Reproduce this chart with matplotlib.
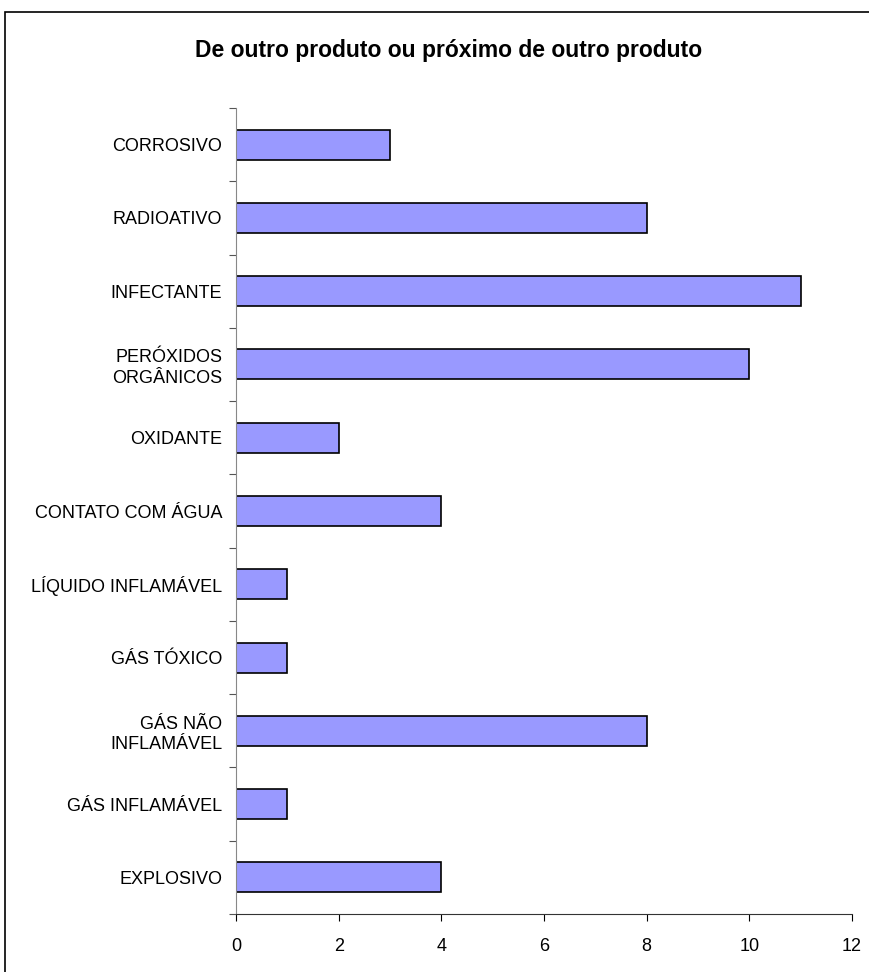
import numpy as np
import matplotlib.pyplot as plt
from matplotlib.patches import Rectangle

plt.rcParams['font.family'] = ['Liberation Sans', 'DejaVu Sans']

# categories from bottom to top
categories = ['EXPLOSIVO', 'GÁS INFLAMÁVEL', 'GÁS NÃO\nINFLAMÁVEL', 'GÁS TÓXICO',
              'LÍQUIDO INFLAMÁVEL', 'CONTATO COM ÁGUA', 'OXIDANTE',
              'PERÓXIDOS\nORGÂNICOS', 'INFECTANTE', 'RADIOATIVO', 'CORROSIVO']
values = [4, 1, 8, 1, 1, 4, 2, 10, 11, 8, 3]
xticks = [0, 2, 4, 6, 8, 10, 12]

W, H = 869, 972
fig = plt.figure(figsize=(W / 100, H / 100), dpi=100)
ax = fig.add_axes([236 / W, 1 - 914 / H, (852 - 236) / W, (914 - 108) / H])

y = np.arange(len(categories))
ax.barh(y, values, height=0.41, color='#9999FF', edgecolor='black', linewidth=1.2)

ax.set_xlim(0, 12)
ax.set_ylim(-0.5, len(categories) - 0.5)
ax.set_xticks(xticks)
ax.set_xticklabels([str(t) for t in xticks], fontsize=13)

# ticks sit between categories, labels at the centres
ax.set_yticks(np.arange(-0.5, len(categories), 1.0))
ax.set_yticklabels([])
ax.set_yticks(y, minor=True)
ax.set_yticklabels(categories, minor=True, fontsize=13, linespacing=1.25)
ax.tick_params(axis='y', which='minor', length=0, pad=10)
ax.tick_params(axis='y', which='major', length=5, direction='out', color='#555555')
ax.tick_params(axis='x', length=5, direction='out', pad=12)

for s in ['top', 'right']:
    ax.spines[s].set_visible(False)
ax.spines['left'].set_color('#888888')
ax.spines['bottom'].set_color('#333333')

fig.text(449 / W, 1 - 51 / H, 'De outro produto ou próximo de outro produto',
         ha='center', va='center', fontsize=16.5, fontweight='bold')

# outer frame, running off the right and bottom edges
fig.patches.append(Rectangle((5 / W, -0.05), 1.2, 1 - 12 / H + 0.05,
                             transform=fig.transFigure, fill=False,
                             edgecolor='black', linewidth=1.2))

fig.savefig('out.png', dpi=100)
